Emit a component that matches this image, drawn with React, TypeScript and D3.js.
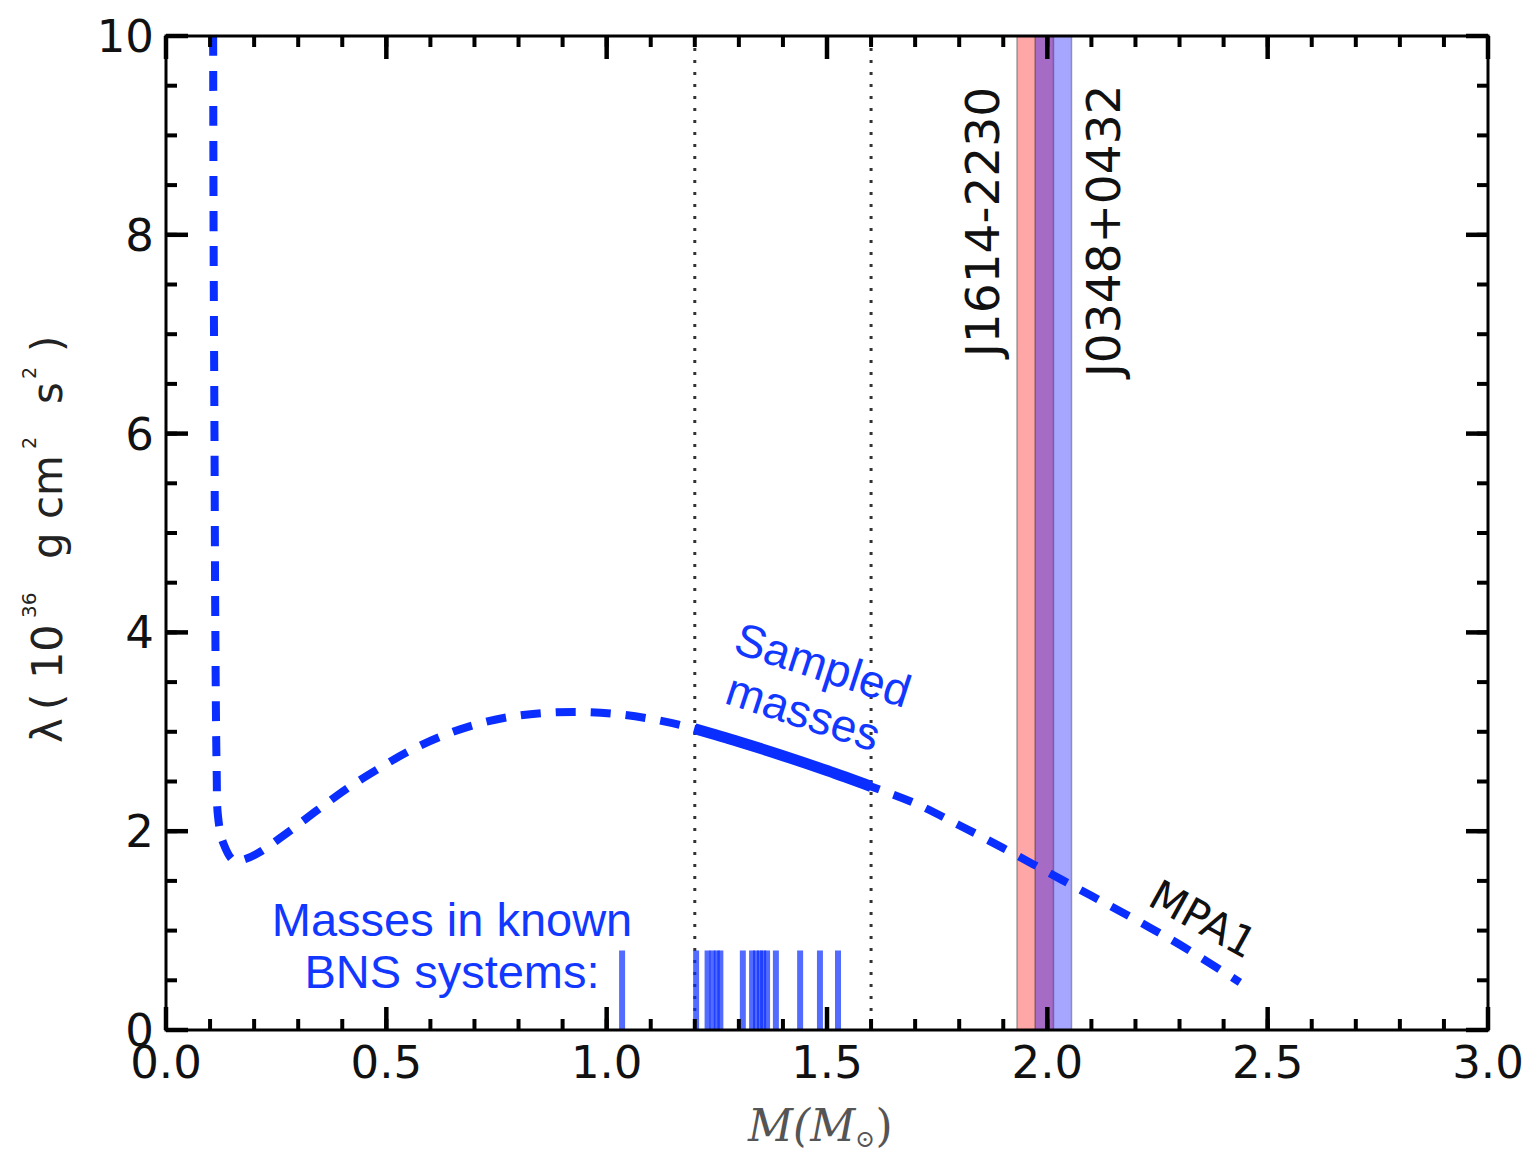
import React from 'react';
import * as d3 from 'd3';

// MPA1 tidal deformability curve λ(M)
const massM = [0.107, 0.108, 0.110, 0.112, 0.115, 0.118, 0.13, 0.155, 0.18, 0.213, 0.277, 0.343, 0.411, 0.479, 0.549, 0.622, 0.70, 0.78, 0.86, 0.94, 1.02, 1.10, 1.166, 1.20, 1.30, 1.40, 1.50, 1.60, 1.70, 1.80, 1.90, 2.00, 2.10, 2.20, 2.30, 2.437];
const lambdaVals = [10.0, 8.0, 6.0, 4.0, 2.6, 2.15, 1.88, 1.70, 1.72, 1.79, 1.99, 2.21, 2.43, 2.62, 2.80, 2.95, 3.07, 3.15, 3.19, 3.20, 3.18, 3.13, 3.07, 3.03, 2.90, 2.76, 2.61, 2.45, 2.28, 2.06, 1.83, 1.59, 1.35, 1.11, 0.86, 0.48];

// masses in known BNS systems (rug)
const bnsMasses = [1.035, 1.203, 1.229, 1.24, 1.25, 1.258, 1.309, 1.33, 1.339, 1.348, 1.355, 1.364, 1.384, 1.439, 1.484, 1.525];
const rugHeight = 0.8;

const sampledRange = [1.2, 1.6];

const pulsarNames = ['J1614-2230', 'J0348+0432'];
const pulsarLow = [1.931, 1.972];
const pulsarHigh = [2.014, 2.055];
const pulsarColors = ['#ff0000', '#0000ff'];

const xTickValues = [0, 0.5, 1.0, 1.5, 2.0, 2.5, 3.0];
const xTickLabels = ['0.0', '0.5', '1.0', '1.5', '2.0', '2.5', '3.0'];
const yTickValues = [0, 2, 4, 6, 8, 10];
const yTickLabels = ['0', '2', '4', '6', '8', '10'];

const W = 1528;
const H = 1152;
const L = 166, R = 1488, T = 36, B = 1030;
const BLUE = '#0a2eff';
const TEXTBLUE = '#1238ff';

export default function App() {
  const x = d3.scaleLinear().domain([0, 3]).range([L, R]);
  const y = d3.scaleLinear().domain([0, 10]).range([B, T]);

  const pts: [number, number][] = massM.map((m, i) => [m, lambdaVals[i]]);
  const line = d3
    .line<[number, number]>()
    .x((d) => x(d[0]))
    .y((d) => y(d[1]))
    .curve(d3.curveCatmullRom.alpha(0.5));
  const solidPts = pts.filter((d) => d[0] >= sampledRange[0] - 1e-9 && d[0] <= sampledRange[1] + 1e-9);

  const xMinor = d3.range(0, 3.0001, 0.1);
  const yMinor = d3.range(0, 10.0001, 0.5);

  const tickFont = 'DejaVu Sans, Bitstream Vera Sans, sans-serif';

  return (
    <svg width={W} height={H} style={{ position: 'absolute', left: 0, top: 0, background: '#fff' }}>
      <defs>
        <clipPath id="plotclip">
          <rect x={L} y={T} width={R - L} height={B - T} />
        </clipPath>
      </defs>
      <rect x={0} y={0} width={W} height={H} fill="#fff" />

      {/* pulsar mass bands */}
      {pulsarNames.map((n, i) => (
        <rect
          key={n}
          x={x(pulsarLow[i])}
          y={T}
          width={x(pulsarHigh[i]) - x(pulsarLow[i])}
          height={B - T}
          fill={pulsarColors[i]}
          fillOpacity={0.35}
          stroke="#000"
          strokeOpacity={0.3}
          strokeWidth={1.5}
        />
      ))}

      {/* dotted sampled range lines */}
      {sampledRange.map((m) => (
        <line key={m} x1={x(m)} x2={x(m)} y1={T} y2={B} stroke="#333" strokeWidth={3} strokeDasharray="3 9" />
      ))}

      {/* rug of known BNS masses */}
      {bnsMasses.map((m, i) => (
        <line key={i} x1={x(m)} x2={x(m)} y1={y(0)} y2={y(rugHeight)} stroke={BLUE} strokeOpacity={0.7} strokeWidth={6} />
      ))}

      {/* curve */}
      <g clipPath="url(#plotclip)">
        <path d={line(pts) || ''} fill="none" stroke={BLUE} strokeWidth={8} strokeDasharray="20 15" />
        <path d={line(solidPts) || ''} fill="none" stroke={BLUE} strokeWidth={11} />
      </g>

      {/* frame */}
      <rect x={L} y={T} width={R - L} height={B - T} fill="none" stroke="#000" strokeWidth={3} />

      {/* x ticks */}
      {xMinor.map((v, i) => (
        <g key={'xm' + i}>
          <line x1={x(v)} x2={x(v)} y1={B} y2={B - 11} stroke="#000" strokeWidth={4} />
          <line x1={x(v)} x2={x(v)} y1={T} y2={T + 11} stroke="#000" strokeWidth={4} />
        </g>
      ))}
      {xTickValues.map((v, i) => (
        <g key={'xM' + i}>
          <line x1={x(v)} x2={x(v)} y1={B} y2={B - 23} stroke="#000" strokeWidth={4.5} />
          <line x1={x(v)} x2={x(v)} y1={T} y2={T + 23} stroke="#000" strokeWidth={4.5} />
          <text x={x(v)} y={1078} textAnchor="middle" fontFamily={tickFont} fontSize={45} fill="#111">
            {xTickLabels[i]}
          </text>
        </g>
      ))}

      {/* y ticks */}
      {yMinor.map((v, i) => (
        <g key={'ym' + i}>
          <line x1={L} x2={L + 11} y1={y(v)} y2={y(v)} stroke="#000" strokeWidth={4} />
          <line x1={R} x2={R - 11} y1={y(v)} y2={y(v)} stroke="#000" strokeWidth={4} />
        </g>
      ))}
      {yTickValues.map((v, i) => (
        <g key={'yM' + i}>
          <line x1={L} x2={L + 22} y1={y(v)} y2={y(v)} stroke="#000" strokeWidth={4.5} />
          <line x1={R} x2={R - 22} y1={y(v)} y2={y(v)} stroke="#000" strokeWidth={4.5} />
          <text x={154} y={y(v) + 16} textAnchor="end" fontFamily={tickFont} fontSize={45} fill="#111">
            {yTickLabels[i]}
          </text>
        </g>
      ))}

      {/* y axis label */}
      <g transform="rotate(-90)" fontFamily={tickFont} fill="#222">
        <text x={-743} y={62} fontSize={42}>λ</text>
        <text x={-710} y={62} fontSize={42}>(</text>
        <text x={-679} y={62} fontSize={43}>10</text>
        <text x={-618} y={36} fontSize={20}>36</text>
        <text x={-559} y={62} fontSize={42}>g</text>
        <text x={-519} y={62} fontSize={42}>cm</text>
        <text x={-449} y={36} fontSize={19}>2</text>
        <text x={-404} y={62} fontSize={42}>s</text>
        <text x={-379} y={36} fontSize={19}>2</text>
        <text x={-352} y={62} fontSize={42}>)</text>
      </g>

      {/* x axis label */}
      <text x={748} y={1141} fontFamily="DejaVu Serif, serif" fontStyle="italic" fontSize={44} fill="#555">
        <tspan>M(M</tspan>
        <tspan fontSize={24} dy={6}>⊙</tspan>
        <tspan dy={-6} fontStyle="normal">)</tspan>
      </text>

      {/* pulsar labels */}
      <g transform="rotate(-90)" fontFamily={tickFont} fontSize={47} fill="#111">
        <text x={-357} y={999}>{pulsarNames[0]}</text>
        <text x={-377} y={1120}>{pulsarNames[1]}</text>
      </g>

      {/* MPA1 label */}
      <text
        transform="translate(1196,932) rotate(29)"
        textAnchor="middle"
        fontFamily={tickFont}
        fontSize={42}
        fill="#111"
      >
        MPA1
      </text>

      {/* Sampled masses annotation */}
      <g transform="translate(818,680) rotate(18)" fontFamily="Liberation Sans, Arial, sans-serif" fontSize={46} fill={TEXTBLUE}>
        <text x={0} y={0} textAnchor="middle">Sampled</text>
        <text x={-4} y={51} textAnchor="middle">masses</text>
      </g>

      {/* Masses in known BNS systems annotation */}
      <g fontFamily="Liberation Sans, Arial, sans-serif" fontSize={47} fill={TEXTBLUE}>
        <text x={452} y={936} textAnchor="middle">Masses in known</text>
        <text x={452} y={988} textAnchor="middle">BNS systems:</text>
      </g>
    </svg>
  );
}
